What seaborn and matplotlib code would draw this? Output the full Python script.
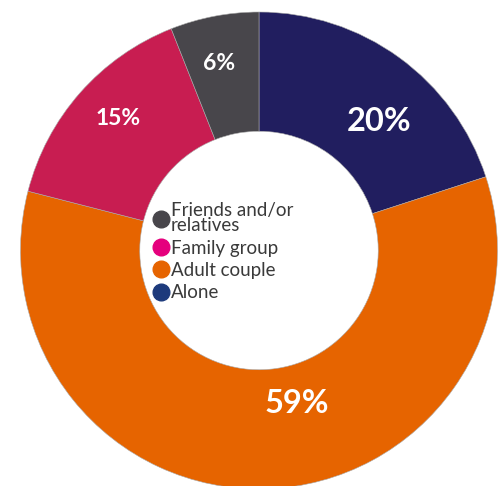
import matplotlib
matplotlib.use("Agg")
import matplotlib.pyplot as plt
from matplotlib.lines import Line2D
import numpy as np
import seaborn as sns

categories = ["Alone", "Adult couple", "Family group", "Friends and/or\nrelatives"]
values = [20, 59, 15, 6]
labels = ["20%", "59%", "15%", "6%"]
wedge_colors = ["#211e5f", "#e66400", "#c81d51", "#48464b"]
marker_colors = ["#1d3a7c", "#e66400", "#e5007d", "#48464b"]

sns.set_theme(style="white")
plt.rcParams["font.family"] = ["Lato", "DejaVu Sans"]

W, H = 504, 486
fig = plt.figure(figsize=(W / 100, H / 100), dpi=100)
cx, cy, R = 259, 250.5, 238.5
ax = fig.add_axes([(cx - R) / W, (H - cy - R) / H, 2 * R / W, 2 * R / H])

wedges, _ = ax.pie(values, colors=wedge_colors, startangle=90, counterclock=False,
                   radius=1, wedgeprops=dict(width=0.5, edgecolor="#aaaaaa", linewidth=0.4))
ax.set_xlim(-1, 1)
ax.set_ylim(-1, 1)
ax.set_aspect("equal")
ax.axis("off")

# label placement (angle in degrees, radius fraction, font size)
label_style = [(47, 0.74, 23.5), (-76, 0.66, 23.5), (137, 0.81, 16.5), (102, 0.80, 16.5)]
for lab, (ang, r, fs) in zip(labels, label_style):
    a = np.deg2rad(ang)
    ax.text(r * np.cos(a), r * np.sin(a), lab, ha="center", va="center",
            color="white", fontsize=fs, fontweight="bold")

handles = [Line2D([0], [0], marker="o", linestyle="", markersize=12,
                  markerfacecolor=c, markeredgecolor=c) for c in marker_colors]
order = [3, 2, 1, 0]
leg = fig.legend([handles[i] for i in order], [categories[i] for i in order],
                 loc="upper left", bbox_to_anchor=(153 / W, 1 - 202 / H),
                 frameon=False, fontsize=13.5, handletextpad=0.1,
                 labelspacing=0.28, handlelength=0.85, borderpad=0, borderaxespad=0)
for t in leg.get_texts():
    t.set_color("#3a3a3a")
    t.set_linespacing(0.88)

fig.savefig("out.png", dpi=100)
